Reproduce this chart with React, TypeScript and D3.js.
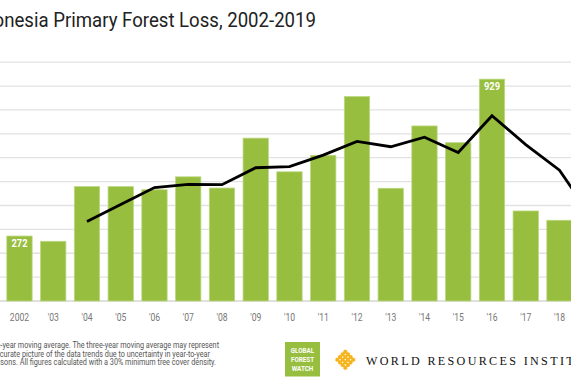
import React from 'react';
import * as d3 from 'd3';

const years = [2002, 2003, 2004, 2005, 2006, 2007, 2008, 2009, 2010, 2011, 2012, 2013, 2014, 2015, 2016, 2017, 2018, 2019];
const tickLabels = ['2002', "'03", "'04", "'05", "'06", "'07", "'08", "'09", "'10", "'11", "'12", "'13", "'14", "'15", "'16", "'17", "'18", "'19"];
const loss = [272, 250, 479, 479, 466, 520, 473, 682, 541, 610, 856, 472, 733, 663, 929, 377, 338, 324];
const maYears = [2004, 2005, 2006, 2007, 2008, 2009, 2010, 2011, 2012, 2013, 2014, 2015, 2016, 2017, 2018, 2019];
const movingAvg = [333, 404, 475, 488, 487, 558, 563, 611, 668, 646, 686, 622, 776, 655, 548, 340];
const labelledYears = [2002, 2016];
const yTicks = [0, 100, 200, 300, 400, 500, 600, 700, 800, 900, 1000];

const title = 'Indonesia Primary Forest Loss, 2002-2019';
const noteLines = [
  'Note: Black line represents a three-year moving average. The three-year moving average may represent',
  'a more accurate picture of the data trends due to uncertainty in year-to-year',
  'comparisons. All figures calculated with a 30% minimum tree cover density.',
];
const gfwLines = ['GLOBAL', 'FOREST', 'WATCH'];
const wriText = 'WORLD RESOURCES INSTITUTE';

const W = 571;
const H = 381;
const GREEN = '#97be3e';
const COND = 'Roboto, "Noto Sans", sans-serif';

function CText(props: any) {
  const { x, y, sx = 1, anchor = 'start', size, fill = '#333', weight = 400, family = COND, ls = 0, children } = props;
  return (
    <text
      transform={`translate(${x},${y}) scale(${sx},1)`}
      textAnchor={anchor}
      fontSize={size}
      fill={fill}
      fontWeight={weight}
      fontFamily={family}
      letterSpacing={ls}
    >
      {children}
    </text>
  );
}

export default function App() {
  const x = d3
    .scaleBand<string>()
    .domain(years.map(String))
    .range([2.6, 610.1])
    .paddingInner(0.25)
    .paddingOuter(0.125);
  const y = d3.scaleLinear().domain([0, 1000]).range([301, 62.2]);
  const bw = x.bandwidth();
  const cx = (yr: number) => (x(String(yr)) as number) + bw / 2;

  const line = d3
    .line<number>()
    .x((_, i) => cx(maYears[i]))
    .y((d) => y(d));

  // WRI lattice icon
  const lat: any[] = [];
  const n = 4;
  const sp = 4.4;
  for (let i = 0; i < n; i++) {
    lat.push({ x1: -((n - 1) * sp) / 2 + i * sp, y1: -9, x2: -((n - 1) * sp) / 2 + i * sp, y2: 9 });
    lat.push({ y1: -((n - 1) * sp) / 2 + i * sp, x1: -9, y2: -((n - 1) * sp) / 2 + i * sp, x2: 9 });
  }

  return (
    <svg width={W} height={H} style={{ position: 'absolute', left: 0, top: 0, background: '#fff' }}>
      <rect x={0} y={0} width={W} height={H} fill="#fff" />
      <CText x={316} y={27} sx={0.955} anchor="end" size={19.5} fill="#222">
        {title}
      </CText>

      {yTicks.map((t) => (
        <line key={t} x1={0} x2={W} y1={y(t)} y2={y(t)} stroke={t === 0 ? '#d6d6d6' : '#e2e2e2'} strokeWidth={1.3} />
      ))}

      {years.map((yr, i) => (
        <rect
          key={yr}
          x={x(String(yr))}
          y={y(loss[i])}
          width={bw}
          height={y(0) - y(loss[i])}
          fill={GREEN}
          stroke="#bcd782"
          strokeWidth={0.8}
        />
      ))}

      {years.map((yr, i) =>
        labelledYears.includes(yr) ? (
          <CText key={'l' + yr} x={cx(yr)} y={y(loss[i]) + 10.5} sx={0.85} anchor="middle" size={11} fill="#fff" weight={700}>
            {loss[i]}
          </CText>
        ) : null
      )}

      <path d={line(movingAvg) || ''} fill="none" stroke="#000" strokeWidth={2.8} strokeLinejoin="miter" />

      {years.map((yr, i) => (
        <CText key={'t' + yr} x={cx(yr)} y={321} sx={0.76} anchor="middle" size={11.3} fill="#777">
          {tickLabels[i]}
        </CText>
      ))}

      {noteLines.map((t, i) => (
        <CText key={'n' + i} x={[219, 210, 216][i]} y={348 + i * 8.6} sx={0.855} anchor="end" size={8.5} fill="#555">
          {t}
        </CText>
      ))}

      <rect x={285} y={342} width={35} height={34.5} fill={GREEN} />
      {gfwLines.map((t, i) => (
        <CText key={'g' + i} x={302.5} y={353.2 + i * 8.7} sx={0.85} anchor="middle" size={7.4} fill="#fff" weight={700}>
          {t}
        </CText>
      ))}

      <g transform="translate(345.3,359.7) rotate(45)">
        {lat.map((l, i) => (
          <line key={i} x1={l.x1 * 0.85} y1={l.y1 * 0.85} x2={l.x2 * 0.85} y2={l.y2 * 0.85} stroke="#f6b51e" strokeWidth={2.4} />
        ))}
      </g>

      <CText x={366} y={364.5} sx={0.97} size={12.5} fill="#111" family='"Liberation Serif", "DejaVu Serif", serif' ls={2.4}>
        {wriText}
      </CText>
    </svg>
  );
}
